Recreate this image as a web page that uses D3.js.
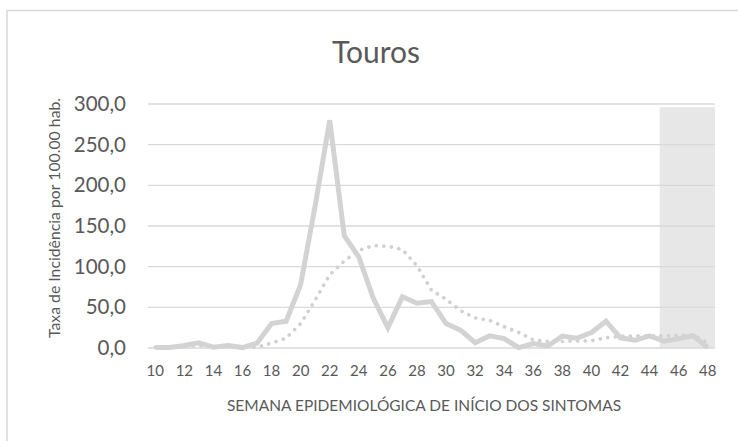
<!DOCTYPE html>
<html>
<head>
<meta charset="utf-8">
<script src="https://cdn.jsdelivr.net/npm/d3@7"></script>
<style>
  html, body { margin: 0; padding: 0; background: #fff; }
  svg { display: block; }
  text { font-family: Lato, "Open Sans", sans-serif; fill: #595959; }
</style>
</head>
<body>
<svg id="chart" width="738" height="441"></svg>
<script>
// Semanas epidemiológicas 10 a 48
const weeks = d3.range(10, 49);

// Taxa de incidência observada (linha contínua)
const incidencia = [
  0.5, 0.5, 3, 6.5, 1, 3, 0.5, 6, 30, 33,
  78, 175, 280, 138, 112, 61, 25, 63, 55, 57,
  30, 22, 6.5, 15, 11.5, 0.5, 5.5, 2.5, 14.5, 12,
  19, 33, 12.5, 9.5, 15, 8.5, 11.5, 15, 0.5
];

// Linha pontilhada (referência)
const referencia = [
  1, 1, 2, 3, 1.5, 2, 1, 1, 6, 12,
  30, 59, 90, 107, 120, 126, 125, 121, 101, 71,
  60, 46, 37, 34, 26, 19, 10, 8, 8, 8.5,
  9, 12.5, 14.5, 15, 15, 15, 15.5, 16, 6
];

// Semanas sombreadas (dados em fechamento)
const shadedWeeks = [45, 46, 47, 48];
const shadedValue = 296;

const yTicks = [0, 50, 100, 150, 200, 250, 300];
const xTickWeeks = weeks.filter(w => w % 2 === 0);

const svg = d3.select("#chart");

// Moldura do gráfico
svg.append("path")
  .attr("d", "M7,441 V10.5 H738")
  .attr("fill", "none")
  .attr("stroke", "#d9d9d9")
  .attr("stroke-width", 1.5);

const plot = { left: 148, right: 715, top: 104, bottom: 348 };

const x = d3.scaleBand()
  .domain(weeks)
  .range([plot.left, plot.right])
  .padding(0);
const xc = w => x(w) + x.bandwidth() / 2;

const y = d3.scaleLinear()
  .domain([0, 300])
  .range([plot.bottom, plot.top]);

// Área sombreada
const shadeX0 = x(shadedWeeks[0]) + x.bandwidth() * 0.2;
const shadeX1 = x(shadedWeeks[shadedWeeks.length - 1]) + x.bandwidth();
svg.append("rect")
  .attr("x", shadeX0)
  .attr("y", y(shadedValue))
  .attr("width", shadeX1 - shadeX0)
  .attr("height", y(0) - y(shadedValue))
  .attr("fill", "#e7e7e7");

// Linhas de grade
svg.append("g")
  .selectAll("line")
  .data(yTicks)
  .join("line")
  .attr("x1", plot.left)
  .attr("x2", plot.right)
  .attr("y1", d => y(d))
  .attr("y2", d => y(d))
  .attr("stroke", "#d9d9d9")
  .attr("stroke-width", 1.3);

// Eixo Y
const fmt = d => d.toFixed(1).replace(".", ",");
const yAxis = d3.axisLeft(y).tickValues(yTicks).tickFormat(fmt).tickSize(0).tickPadding(0);
const gy = svg.append("g")
  .attr("transform", `translate(126,0)`)
  .call(yAxis);
gy.select(".domain").remove();
gy.selectAll("text")
  .style("font-family", "Lato, 'Open Sans', sans-serif")
  .style("font-size", "20.5px")
  .attr("fill", "#595959");

// Eixo X
const xAxis = d3.axisBottom(x).tickValues(xTickWeeks).tickSize(0).tickPadding(0);
const gx = svg.append("g")
  .attr("transform", `translate(0,365)`)
  .call(xAxis);
gx.select(".domain").remove();
gx.selectAll("text")
  .attr("dy", "0.75em")
  .style("font-family", "Lato, 'Open Sans', sans-serif")
  .style("font-size", "15px")
  .attr("fill", "#595959");

// Linha pontilhada
const line = d3.line().x((d, i) => xc(weeks[i])).y(d => y(d));
svg.append("path")
  .datum(referencia)
  .attr("d", line)
  .attr("fill", "none")
  .attr("stroke", "#d0d0d0")
  .attr("stroke-width", 3.6)
  .attr("stroke-linecap", "round")
  .attr("stroke-dasharray", "0.1 7.5");

// Linha contínua
svg.append("path")
  .datum(incidencia)
  .attr("d", line)
  .attr("fill", "none")
  .attr("stroke", "#d3d3d3")
  .attr("stroke-width", 5)
  .attr("stroke-linejoin", "miter");

// Título
svg.append("text")
  .attr("x", 376)
  .attr("y", 63)
  .attr("text-anchor", "middle")
  .style("font-size", "30px")
  .text("Touros");

// Título do eixo X
svg.append("text")
  .attr("x", 424)
  .attr("y", 411)
  .attr("text-anchor", "middle")
  .style("font-size", "15.5px")
  .text("SEMANA EPIDEMIOLÓGICA DE INÍCIO DOS SINTOMAS");

// Título do eixo Y
svg.append("text")
  .attr("transform", "translate(60,218) rotate(-90)")
  .attr("text-anchor", "middle")
  .style("font-size", "15.8px")
  .text("Taxa de Incidência por 100.00 hab.");
</script>
</body>
</html>
